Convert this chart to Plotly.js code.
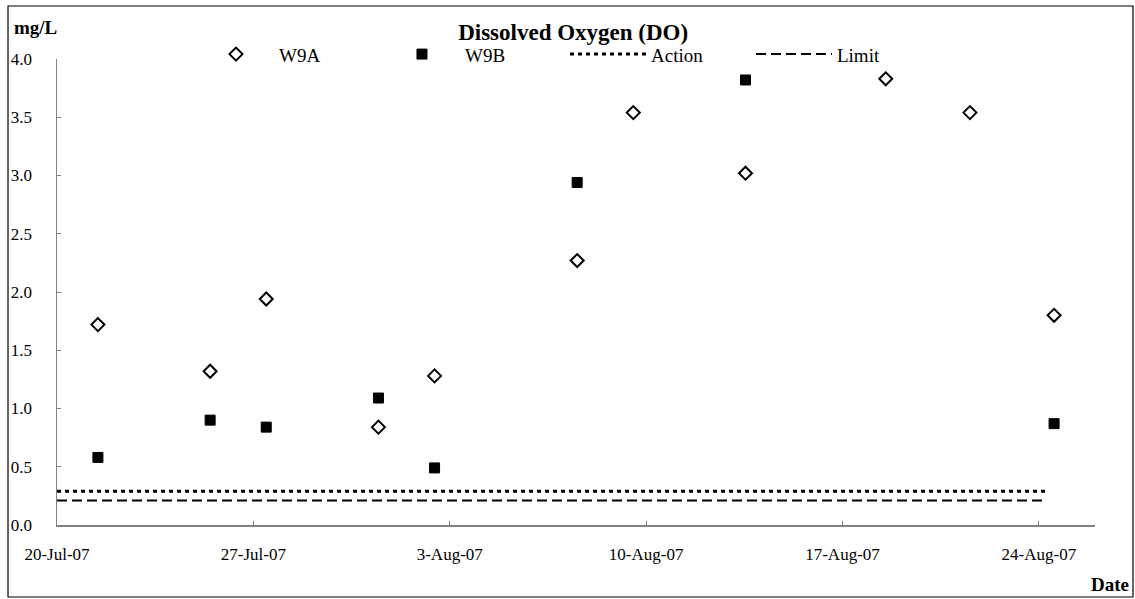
<!DOCTYPE html>
<html>
<head>
<meta charset="utf-8">
<script src="https://cdn.plot.ly/plotly-3.0.1.min.js"></script>
<style>html,body{margin:0;padding:0;background:#fff;}#chart{width:1135px;height:599px;}</style>
</head>
<body>
<div id="chart"></div>
<script>
// Sampling dates and values
const sampleDates = ["2007-07-21 11:00","2007-07-25 11:00","2007-07-27 11:00","2007-07-31 11:00","2007-08-02 11:00",
                     "2007-08-07 13:00","2007-08-09 13:00","2007-08-13 13:00","2007-08-18 13:00","2007-08-21 13:00","2007-08-24 13:00"];
const w9aValues = [1.72, 1.32, 1.94, 0.84, 1.28, 2.27, 3.54, 3.02, 3.83, 3.54, 1.80];
const w9bValues = [0.58, 0.90, 0.84, 1.09, 0.49, 2.94, null, 3.82, null, null, 0.87];
const levelDates = ["2007-07-20 00:00", "2007-08-24 06:00"];
const actionLevel = [0.29, 0.29];
const limitLevel = [0.21, 0.21];
const xTickVals = ["2007-07-20","2007-07-27","2007-08-03","2007-08-10","2007-08-17","2007-08-24"];
const xTickText = ["20-Jul-07","27-Jul-07","3-Aug-07","10-Aug-07","17-Aug-07","24-Aug-07"];
const yTickVals = [0,0.5,1,1.5,2,2.5,3,3.5,4];
const yTickText = ["0.0","0.5","1.0","1.5","2.0","2.5","3.0","3.5","4.0"];

const serif = "Liberation Serif, Times New Roman, serif";

const traces = [
  {x: sampleDates, y: w9aValues, name: "W9A", type: "scatter", mode: "markers",
   marker: {symbol: "diamond-open", size: 10, color: "#000", line: {width: 2, color: "#000"}}},
  {x: sampleDates, y: w9bValues, name: "W9B", type: "scatter", mode: "markers",
   marker: {symbol: "square", size: 10, color: "#000", line: {width: 1, color: "#000"}}},
  {x: levelDates, y: actionLevel, name: "Action", type: "scatter", mode: "lines",
   line: {color: "#000", width: 3, dash: "4px,4px"}},
  {x: levelDates, y: limitLevel, name: "Limit", type: "scatter", mode: "lines",
   line: {color: "#000", width: 2, dash: "10px,5px"}}
];

const layout = {
  width: 1135, height: 599,
  paper_bgcolor: "#fff", plot_bgcolor: "#fff",
  margin: {l: 57, r: 40, t: 59, b: 74},
  font: {family: serif, color: "#000", size: 17},
  title: {text: "<b>Dissolved Oxygen (DO)</b>", font: {family: serif, size: 23, color: "#000"},
          x: 0.505, xref: "container", xanchor: "center", y: 0.947, yref: "container", yanchor: "middle"},
  showlegend: true,
  legend: {orientation: "h", x: 0.131, y: 1.051, xanchor: "left", yanchor: "top",
           font: {family: serif, size: 19, color: "#000"}, itemwidth: 76, entrywidth: 95,
           bgcolor: "rgba(0,0,0,0)", traceorder: "normal"},
  xaxis: {type: "date", range: ["2007-07-20", "2007-08-26"], tickmode: "array",
          tickvals: xTickVals, ticktext: xTickText, ticks: "inside", ticklen: 4, tickcolor: "#808080",
          showline: true, linecolor: "#808080", linewidth: 1.5, showgrid: false, zeroline: false,
          tickfont: {family: serif, size: 17, color: "#000"}, ticklabelstandoff: 13},
  yaxis: {range: [0, 4], tickmode: "array", tickvals: yTickVals, ticktext: yTickText,
          ticks: "inside", ticklen: 4, tickcolor: "#808080", showline: true, linecolor: "#808080", linewidth: 1.5,
          showgrid: false, zeroline: false, tickfont: {family: serif, size: 17, color: "#000"},
          ticklabelstandoff: 20},
  annotations: [
    {text: "<b>mg/L</b>", xref: "paper", yref: "paper", x: -0.0435, y: 1.067, xanchor: "left", yanchor: "middle",
     showarrow: false, font: {family: serif, size: 19, color: "#000"}},
    {text: "<b>Date</b>", xref: "paper", yref: "paper", x: 1.0345, y: -0.127, xanchor: "right", yanchor: "middle",
     showarrow: false, font: {family: serif, size: 19, color: "#000"}}
  ],
  shapes: [
    {type: "rect", xref: "paper", yref: "paper", x0: -0.0472, x1: 1.0366, y0: -0.1545, y1: 1.1137,
     line: {color: "#000", width: 1.2}, fillcolor: "rgba(0,0,0,0)", layer: "below"}
  ]
};

Plotly.newPlot("chart", traces, layout, {displayModeBar: false, staticPlot: true});
</script>
</body>
</html>
